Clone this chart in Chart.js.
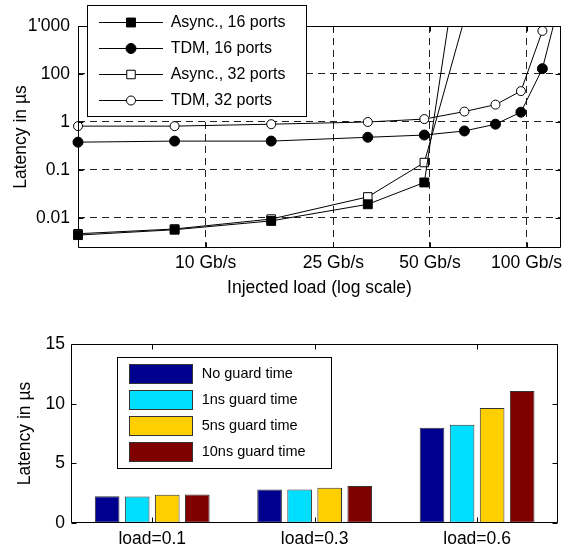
<!DOCTYPE html>
<html>
<head>
<meta charset="utf-8">
<script src="https://cdn.jsdelivr.net/npm/chart.js@4/dist/chart.umd.min.js"></script>
<style>
html, body { margin: 0; padding: 0; background: #fff; width: 571px; height: 547px; overflow: hidden; }
#c1 { position: absolute; left: 0; top: 0; }
#c2 { position: absolute; left: 0; top: 300px; }
</style>
</head>
<body>
<canvas id="c1" width="571" height="300" style="width:571px;height:300px"></canvas>
<canvas id="c2" width="571" height="247" style="width:571px;height:247px"></canvas>
<script>
// ---------- Top plot data (latency vs injected load, log-log) ----------
const asyncLoads = [4, 8, 16, 32, 48, 64];
const tdmLoads = [4, 8, 16, 32, 48, 64, 80, 96, 112, 128];
const async16 = [0.0044, 0.0057, 0.0087, 0.0193, 0.055, 18000];
const tdm16 = [0.38, 0.40, 0.40, 0.48, 0.535, 0.65, 0.9, 1.6, 12.9, 420];
const async32 = [0.0047, 0.0059, 0.0095, 0.0275, 0.143, 140];
const tdm32 = [0.82, 0.82, 0.9, 1.0, 1.15, 1.65, 2.3, 4.4, 79, 1000];
const seriesLabels = ['Async., 16 ports', 'TDM, 16 ports', 'Async., 32 ports', 'TDM, 32 ports'];
const xTickValues = [10, 25, 50, 100];
const xTickLabels = ['10 Gb/s', '25 Gb/s', '50 Gb/s', '100 Gb/s'];
const yTickValues = [0.01, 0.1, 1, 10, 100];
const yTickLabels = ['0.01', '0.1', '1', '100', "1'000"];

// ---------- Bottom plot data (latency per load, guard time) ----------
const loadCategories = ['load=0.1', 'load=0.3', 'load=0.6'];
const guardNames = ['No guard time', '1ns guard time', '5ns guard time', '10ns guard time'];
const noGuard = [2.22, 2.8, 7.98];
const guard1ns = [2.2, 2.8, 8.23];
const guard5ns = [2.35, 2.94, 9.64];
const guard10ns = [2.38, 3.08, 11.07];
const barYTicks = [0, 5, 10, 15];

const FONT = "'Liberation Sans', Arial, Helvetica, sans-serif";
Chart.defaults.font.family = FONT;
Chart.defaults.color = '#000';

function toPoints(xs, ys) { return xs.map((x, i) => ({ x: x, y: ys[i] })); }

// frame + inward tick marks
const framePlugin = {
  id: 'frame',
  afterDatasetsDraw(chart) {
    const { ctx, chartArea: a, scales } = chart;
    const L = Math.round(a.left) + 0.5, R = Math.round(a.right) - 0.5;
    const T = Math.round(a.top) + 0.5, B = Math.round(a.bottom) - 0.5;
    ctx.save();
    ctx.strokeStyle = '#000';
    ctx.lineWidth = 1;
    ctx.setLineDash([]);
    ctx.beginPath();
    ctx.rect(L, T, R - L, B - T);
    const tl = 5;
    const xs = scales.x, ys = scales.y;
    xs.ticks.forEach((t, i) => {
      const px = Math.round(xs.getPixelForTick(i)) + 0.5;
      ctx.moveTo(px, B); ctx.lineTo(px, B - tl);
      ctx.moveTo(px, T); ctx.lineTo(px, T + tl);
    });
    ys.ticks.forEach((t, i) => {
      const py = Math.round(ys.getPixelForTick(i)) + 0.5;
      ctx.moveTo(L, py); ctx.lineTo(L + tl, py);
      ctx.moveTo(R, py); ctx.lineTo(R - tl, py);
    });
    ctx.stroke();
    ctx.restore();
  }
};

const topLegend = {
  id: 'topLegend',
  afterDraw(chart) {
    const ctx = chart.ctx;
    ctx.save();
    ctx.fillStyle = '#fff';
    ctx.fillRect(87.5, 5.5, 219, 111);
    ctx.strokeStyle = '#000';
    ctx.lineWidth = 1;
    ctx.strokeRect(87.5, 5.5, 219, 111);
    chart.data.datasets.forEach((ds, i) => {
      const cy = Math.round(22 + i * 25.9) + 0.5;
      ctx.strokeStyle = '#000';
      ctx.lineWidth = 1;
      ctx.beginPath(); ctx.moveTo(99, cy); ctx.lineTo(163, cy); ctx.stroke();
      ctx.fillStyle = ds.pointBackgroundColor;
      ctx.strokeStyle = ds.pointBorderColor;
      Chart.helpers.drawPoint(ctx, { pointStyle: ds.pointStyle, radius: ds.pointRadius, rotation: 0, borderWidth: 1 }, 131, cy);
      ctx.fillStyle = '#000';
      ctx.font = '16px ' + FONT;
      ctx.textBaseline = 'middle';
      ctx.textAlign = 'left';
      ctx.fillText(ds.label, 170.7, cy);
    });
    ctx.restore();
  }
};

const botLegend = {
  id: 'botLegend',
  afterDraw(chart) {
    const ctx = chart.ctx;
    ctx.save();
    ctx.fillStyle = '#fff';
    ctx.fillRect(117.5, 57.5, 214, 111);
    ctx.strokeStyle = '#000';
    ctx.lineWidth = 1;
    ctx.strokeRect(117.5, 57.5, 214, 111);
    chart.data.datasets.forEach((ds, i) => {
      const cy = 73.8 + i * 25.9;
      const top = Math.round(cy - 9.5) + 0.5;
      ctx.fillStyle = ds.backgroundColor;
      ctx.fillRect(129.5, top, 63, 19);
      ctx.strokeStyle = '#333';
      ctx.strokeRect(129.5, top, 63, 19);
      ctx.fillStyle = '#000';
      ctx.font = '14.5px ' + FONT;
      ctx.textBaseline = 'middle';
      ctx.textAlign = 'left';
      ctx.fillText(ds.label, 201.7, cy);
    });
    ctx.restore();
  }
};

const lineStyle = (label, xs, ys, style, filled, r) => ({
  label: label,
  data: toPoints(xs, ys),
  borderColor: '#000',
  borderWidth: 1,
  pointStyle: style,
  pointRadius: r,
  pointBorderWidth: 1,
  pointBackgroundColor: filled ? '#000' : '#fff',
  pointBorderColor: '#000',
  fill: false,
  tension: 0,
  clip: { left: 12, top: 0, right: 12, bottom: 12 }
});

new Chart(document.getElementById('c1'), {
  type: 'line',
  data: {
    datasets: [
      lineStyle(seriesLabels[0], asyncLoads, async16, 'rect', true, 6.3),
      lineStyle(seriesLabels[1], tdmLoads, tdm16, 'circle', true, 5),
      lineStyle(seriesLabels[2], asyncLoads, async32, 'rect', false, 6),
      lineStyle(seriesLabels[3], tdmLoads, tdm32, 'circle', false, 4.5)
    ]
  },
  options: {
    responsive: false,
    animation: false,
    layout: { padding: { left: 0, top: 26, right: 10, bottom: 0 } },
    plugins: { legend: { display: false }, tooltip: { enabled: false } },
    scales: {
      x: {
        type: 'logarithmic',
        min: 4, max: 128,
        afterBuildTicks: (s) => { s.ticks = xTickValues.map(v => ({ value: v })); },
        afterFit: (s) => { s.height = 52; },
        grid: { color: '#222', lineWidth: 1, drawTicks: false },
        border: { display: false, dash: [7, 5] },
        ticks: {
          autoSkip: false, maxRotation: 0, padding: 5,
          font: { size: 17.5 },
          callback: (v, i) => xTickLabels[i]
        },
        title: { display: true, text: 'Injected load (log scale)', font: { size: 17.5 }, padding: { top: 0, bottom: 1.5 } }
      },
      y: {
        type: 'logarithmic',
        min: 0.00237, max: 100,
        afterBuildTicks: (s) => { s.ticks = yTickValues.map(v => ({ value: v })); },
        afterFit: (s) => { s.width = 78; },
        grid: { color: '#222', lineWidth: 1, drawTicks: false },
        border: { display: false, dash: [7, 5] },
        ticks: {
          autoSkip: false, padding: 8,
          font: { size: 17.5 },
          callback: (v, i) => yTickLabels[i]
        },
        title: { display: true, text: 'Latency in µs', font: { size: 17.5 }, padding: { top: 11, bottom: 0 } }
      }
    }
  },
  plugins: [framePlugin, topLegend]
});

const barColors = ['#00008F', '#00DFFF', '#FFCF00', '#800000'];
const barSeries = [noGuard, guard1ns, guard5ns, guard10ns];

new Chart(document.getElementById('c2'), {
  type: 'bar',
  data: {
    labels: loadCategories,
    datasets: barSeries.map((vals, i) => ({
      label: guardNames[i],
      data: vals,
      backgroundColor: barColors[i],
      borderColor: '#333',
      borderWidth: 1,
      borderSkipped: false,
      categoryPercentage: 0.74,
      barPercentage: 0.82
    }))
  },
  options: {
    responsive: false,
    animation: false,
    layout: { padding: { left: 0, top: 44.3, right: 12.7, bottom: 0 } },
    plugins: { legend: { display: false }, tooltip: { enabled: false } },
    scales: {
      x: {
        type: 'category',
        afterFit: (s) => { s.height = 24.3; },
        grid: { display: false, drawTicks: false },
        border: { display: false },
        ticks: { padding: 5.5, font: { size: 17.5 }, maxRotation: 0 }
      },
      y: {
        min: 0, max: 15,
        afterBuildTicks: (s) => { s.ticks = barYTicks.map(v => ({ value: v })); },
        afterFit: (s) => { s.width = 71; },
        grid: { display: false, drawTicks: false },
        border: { display: false },
        ticks: { padding: 6, font: { size: 17.5 } },
        title: { display: true, text: 'Latency in µs', font: { size: 17.5 }, padding: { top: 14.5, bottom: 0 } }
      }
    }
  },
  plugins: [framePlugin, botLegend]
});
</script>
</body>
</html>
